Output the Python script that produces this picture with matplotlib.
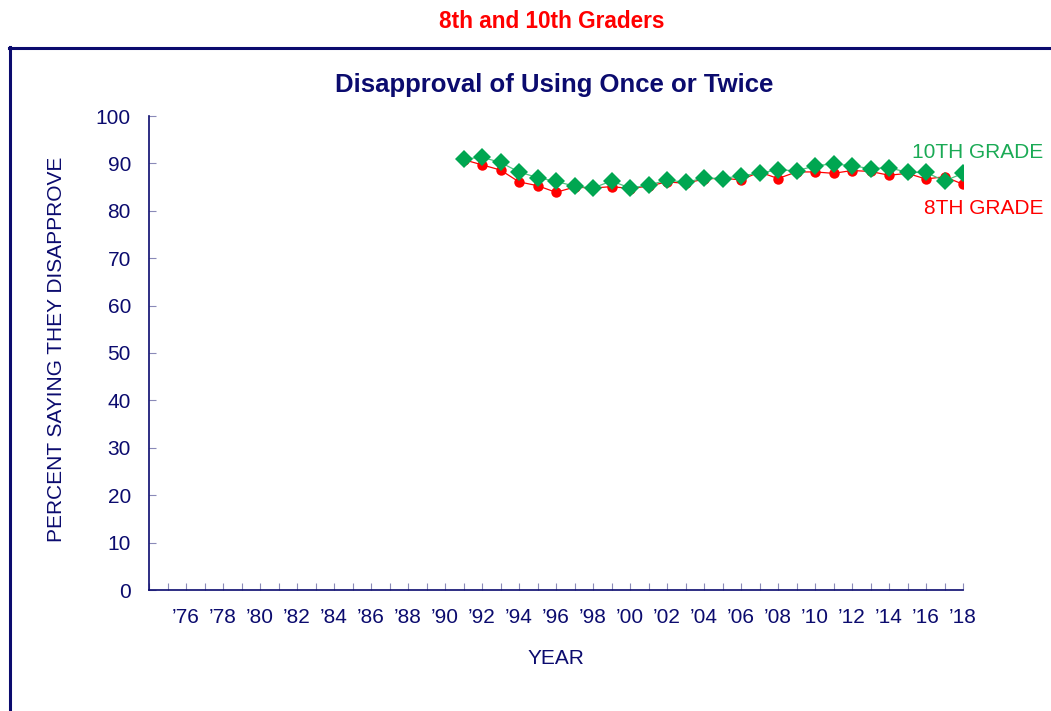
from matplotlib import pyplot as plt
from matplotlib.lines import Line2D
import numpy as np

NAVY = '#0b0b6e'
RED = '#ff0000'
GREEN = '#00a651'

years = list(range(1991, 2019))
grade10 = [90.9, 91.3, 90.2, 88.2, 87.0, 86.2, 85.2, 84.8, 86.3, 84.8,
           85.4, 86.5, 86.0, 86.9, 86.8, 87.4, 87.9, 88.7, 88.4, 89.5,
           89.9, 89.5, 88.9, 89.1, 88.1, 88.1, 86.3, 87.9]
grade8 = [90.8, 89.7, 88.6, 86.1, 85.3, 83.9, 85.0, 84.8, 85.1, 84.7,
          85.2, 86.1, 85.8, 86.7, 86.9, 86.5, 88.2, 86.8, 88.2, 88.2,
          87.9, 88.5, 88.3, 87.5, 87.9, 86.7, 87.2, 85.6]

axis_years = list(range(1974, 2019))
year_labels = ["\u2019%02d" % (y % 100) if y >= 1976 and y % 2 == 0 else ''
               for y in axis_years]
y_ticks = list(range(0, 101, 10))

plt.rcParams['font.family'] = ['Liberation Sans', 'DejaVu Sans']

fig = plt.figure(figsize=(10.51, 7.11), dpi=100)
W, H = 1051, 711

# outer frame (left and top edges)
fig.add_artist(Line2D([9.5 / W, 9.5 / W], [0, 1 - 47 / H],
                      color=NAVY, linewidth=2.2))
fig.add_artist(Line2D([8.5 / W, 1], [1 - 48 / H, 1 - 48 / H],
                      color=NAVY, linewidth=2.2))

fig.text(552 / W, 1 - 21 / H, '8th and 10th Graders', color=RED,
         fontsize=16.3, fontweight='bold', ha='center', va='center')
fig.text(554 / W, 1 - 85 / H, 'Disapproval of Using Once or Twice',
         color=NAVY, fontsize=18.5, fontweight='bold', ha='center',
         va='center')

ax = fig.add_axes([149 / W, 1 - 590 / H, (963 - 149) / W, (590 - 116) / H])

ax.plot(years, grade8, '-', color=RED, linewidth=0.9, marker='o',
        markersize=7.5, markeredgewidth=0, zorder=3)
ax.plot(years, grade10, '-', color='#4cc27f', linewidth=0.9, zorder=4)
ax.plot(years, grade10, 'D', color=GREEN, markersize=9.5,
        markeredgewidth=0, zorder=5)

ax.set_xlim(1974, 2018)
ax.set_ylim(0, 100)
ax.set_xticks(axis_years)
ax.set_xticklabels(year_labels)
ax.set_yticks(y_ticks)

for side in ('top', 'right'):
    ax.spines[side].set_visible(False)
for side in ('left', 'bottom'):
    ax.spines[side].set_color(NAVY)
    ax.spines[side].set_linewidth(1.2)

ax.tick_params(axis='both', direction='in', length=5, width=0.8,
               color='#8a8ab8', labelcolor=NAVY, labelsize=15)
ax.tick_params(axis='x', pad=13)
ax.tick_params(axis='y', pad=13)

ax.set_ylabel('PERCENT SAYING THEY DISAPPROVE', color=NAVY, fontsize=15)
ax.yaxis.set_label_coords((66 - 149) / 814, 1 - (349.5 - 116) / 474)
ax.set_xlabel('YEAR', color=NAVY, fontsize=15, labelpad=16)

fig.text(1043 / W, 1 - 153 / H, '10TH GRADE', color='#1aaa55',
         fontsize=15, ha='right', va='center')
fig.text(1043 / W, 1 - 208 / H, '8TH GRADE', color=RED,
         fontsize=15, ha='right', va='center')

fig.savefig('out.png', dpi=100)
